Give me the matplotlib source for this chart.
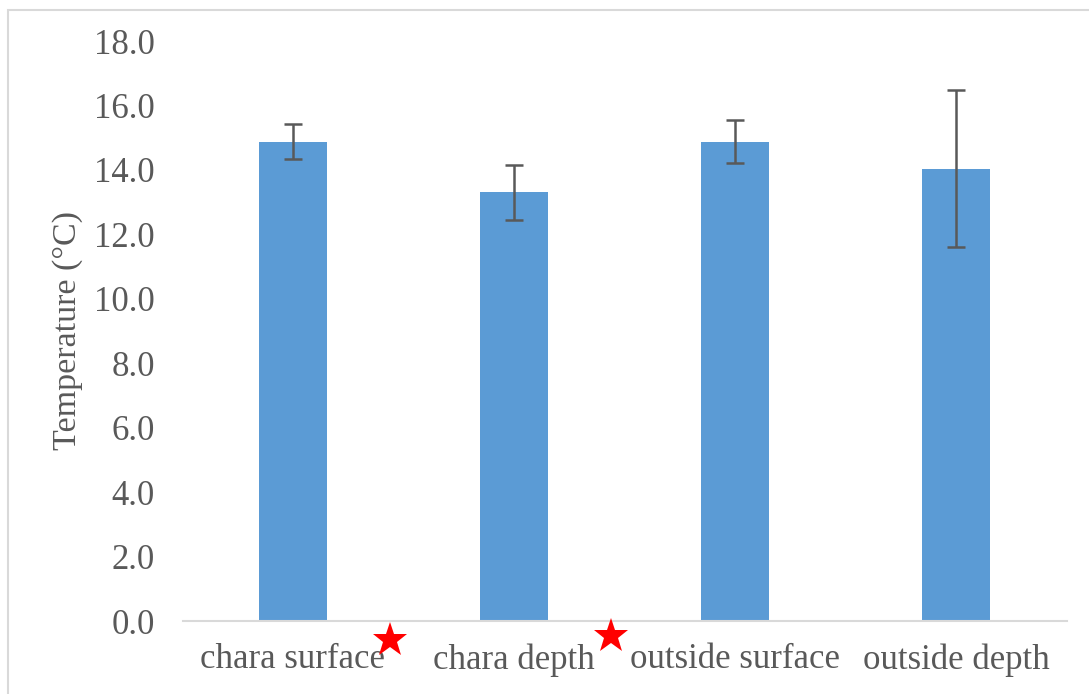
import matplotlib
matplotlib.use("Agg")
import matplotlib.pyplot as plt
from matplotlib.patches import Rectangle

categories = ["chara surface", "chara depth", "outside surface", "outside depth"]
means = [14.88, 13.30, 14.88, 14.04]
errors = [0.55, 0.85, 0.66, 2.43]
yticks = [0, 2, 4, 6, 8, 10, 12, 14, 16, 18]
starred = [0, 1]

W, H = 1089, 694
fig = plt.figure(figsize=(W / 100, H / 100), dpi=100)
plt.rcParams['font.family'] = ['Liberation Serif', 'DejaVu Serif']

ax = fig.add_axes([182.5 / W, 1 - 621 / H, (1066.5 - 182.5) / W, (621 - 41) / H])
x = list(range(len(categories)))
ax.bar(x, means, width=0.31, color="#5B9BD5", zorder=2)
ax.errorbar(x, means, yerr=errors, fmt="none", ecolor="#595959",
            elinewidth=1.8, capsize=6.5, capthick=1.8, zorder=3)

ax.set_xlim(-0.5, len(categories) - 0.5)
ax.set_ylim(0, 18)
ax.set_yticks(yticks)
ax.set_yticklabels([f"{v:.1f}" for v in yticks])
ax.set_xticks(x)
ax.set_xticklabels(categories)
ax.tick_params(axis="both", length=0, labelsize=25, colors="#595959")
ax.tick_params(axis="y", pad=20)
ax.tick_params(axis="x", pad=16)
for s in ["top", "right", "left"]:
    ax.spines[s].set_visible(False)
ax.spines["bottom"].set_color("#D9D9D9")
ax.spines["bottom"].set_linewidth(1.5)
ax.set_ylabel("Temperature (°C)", fontsize=24.5, color="#595959", labelpad=8)

# significance stars
for i in starred:
    ax.plot(i + 0.44, -0.6 + (0.15 if i == 1 else 0), marker="*", color="red",
            markersize=26, clip_on=False, zorder=4, markeredgewidth=0)

# outer border
fig.patches.append(Rectangle((8 / W, -0.2), 1.2, 1.2 - 10 / H, transform=fig.transFigure,
                             fill=False, edgecolor="#D9D9D9", linewidth=1.5))

fig.savefig("out.png", dpi=100)
